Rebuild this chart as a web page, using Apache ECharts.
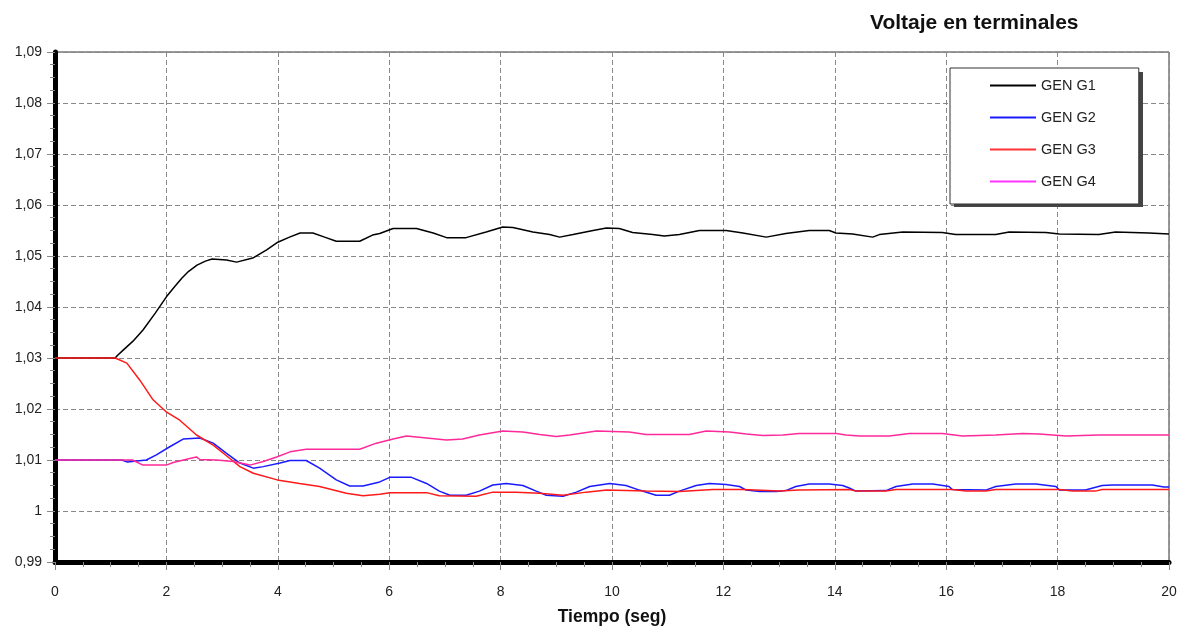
<!DOCTYPE html>
<html>
<head>
<meta charset="utf-8">
<script src="https://cdn.jsdelivr.net/npm/echarts@6/dist/echarts.min.js"></script>
<style>
  html, body { margin: 0; padding: 0; background: #fff; }
  #chart { width: 1188px; height: 630px; }
</style>
</head>
<body>
<div id="chart"></div>
<script>
// Voltage at generator terminals, [time (s), p.u.]
var names = ['GEN G1', 'GEN G2', 'GEN G3', 'GEN G4'];
var colors = ['#000000', '#1a1aff', '#ff1a1a', '#ff2a9a'];

var g1 = [[0,1.03],[1.08,1.03],[1.12,1.0305],[1.2,1.0313],[1.4,1.0333],[1.58,1.0355],[1.8,1.0388],[2.0,1.042],[2.15,1.044],[2.28,1.0457],
    [2.4,1.047],[2.55,1.0482],[2.7,1.049],[2.82,1.0494],[3.08,1.0492],[3.26,1.0488],[3.55,1.0496],[3.8,1.0512],[4.0,1.0527],
    [4.21,1.0537],[4.4,1.0545],[4.63,1.0545],[4.84,1.0537],[5.05,1.0529],[5.47,1.0529],[5.7,1.0541],[5.83,1.0544],[6.07,1.0554],
    [6.49,1.0554],[6.79,1.0545],[7.03,1.0536],[7.38,1.0536],[7.74,1.0547],[8.04,1.0557],[8.22,1.0556],[8.58,1.0547],[8.88,1.0542],
    [9.06,1.0537],[9.3,1.0542],[9.66,1.055],[9.9,1.0555],[10.13,1.0554],[10.37,1.0546],[10.73,1.0542],[10.94,1.0539],[11.21,1.0542],
    [11.57,1.055],[12.05,1.055],[12.35,1.0545],[12.77,1.0537],[13.12,1.0544],[13.54,1.055],[13.9,1.055],[14.02,1.0545],[14.32,1.0543],
    [14.68,1.0537],[14.8,1.0542],[15.22,1.0547],[15.93,1.0546],[16.17,1.0542],[16.89,1.0542],[17.13,1.0547],[17.79,1.0546],
    [18.03,1.0543],[18.74,1.0542],[19.04,1.0547],[19.64,1.0545],[20,1.0543]];

var g2 = [[0,1.01],[1.2,1.01],[1.3,1.0096],[1.64,1.01],[1.82,1.011],[2.06,1.0126],[2.3,1.0141],[2.6,1.0143],[2.84,1.0133],
    [3.08,1.0113],[3.32,1.0094],[3.56,1.0084],[3.74,1.0087],[4.04,1.0094],[4.22,1.0099],[4.51,1.0099],[4.75,1.0084],[5.05,1.0061],
    [5.29,1.0049],[5.53,1.0049],[5.83,1.0057],[6.01,1.0066],[6.4,1.0066],[6.67,1.0054],[6.9,1.0039],[7.09,1.0031],[7.38,1.0031],
    [7.62,1.0039],[7.86,1.0051],[8.1,1.0054],[8.4,1.005],[8.64,1.0039],[8.82,1.0031],[9.12,1.0029],[9.36,1.0037],[9.6,1.0048],
    [9.96,1.0054],[10.25,1.005],[10.49,1.0041],[10.79,1.0031],[11.03,1.0031],[11.21,1.0039],[11.51,1.005],[11.75,1.0054],
    [12.05,1.0052],[12.29,1.0048],[12.41,1.0041],[12.65,1.0038],[12.95,1.0038],[13.12,1.004],[13.3,1.0048],[13.54,1.0053],
    [13.9,1.0053],[14.14,1.005],[14.26,1.0045],[14.38,1.0039],[14.92,1.004],[15.1,1.0048],[15.4,1.0053],[15.76,1.0053],
    [16.05,1.0048],[16.11,1.0042],[16.71,1.0041],[16.89,1.0048],[17.25,1.0053],[17.61,1.0053],[17.97,1.0048],[18.03,1.0041],
    [18.5,1.0041],[18.8,1.005],[18.98,1.0051],[19.7,1.0051],[19.91,1.0047],[20,1.0047]];

var g3 = [[0,1.03],[1.08,1.03],[1.29,1.029],[1.52,1.0257],[1.76,1.0218],[1.99,1.0195],[2.24,1.0178],[2.54,1.0149],[2.84,1.0129],
    [3.14,1.0103],[3.32,1.0087],[3.56,1.0074],[3.99,1.0061],[4.39,1.0054],[4.75,1.0048],[5.23,1.0035],[5.53,1.003],[5.83,1.0033],
    [6.01,1.0036],[6.67,1.0036],[6.9,1.003],[7.56,1.0029],[7.86,1.0037],[8.28,1.0037],[8.7,1.0035],[9.12,1.0031],[9.54,1.0037],
    [9.9,1.0041],[10.61,1.0039],[11.21,1.0038],[11.81,1.0042],[12.35,1.0042],[13.0,1.0039],[13.36,1.0041],[14.26,1.0042],
    [14.38,1.0039],[14.92,1.0039],[15.1,1.0042],[16.11,1.0042],[16.35,1.0039],[16.71,1.0039],[16.89,1.0042],[18.03,1.0042],
    [18.27,1.0039],[18.68,1.0039],[18.8,1.0042],[20,1.0042]];

var g4 = [[0,1.01],[1.39,1.01],[1.58,1.009],[2.0,1.009],[2.12,1.0095],[2.42,1.0103],[2.54,1.0106],[2.6,1.0101],[2.9,1.01],
    [3.2,1.0097],[3.5,1.009],[3.74,1.0097],[3.98,1.0106],[4.22,1.0116],[4.51,1.0121],[5.47,1.0121],[5.77,1.0133],[6.07,1.0141],
    [6.31,1.0147],[6.67,1.0143],[7.03,1.0139],[7.32,1.0141],[7.62,1.0149],[8.04,1.0157],[8.4,1.0155],[8.7,1.015],[9.0,1.0146],
    [9.24,1.0149],[9.72,1.0157],[10.31,1.0155],[10.61,1.015],[11.39,1.015],[11.69,1.0157],[12.11,1.0155],[12.41,1.0151],
    [12.71,1.0148],[13.07,1.0149],[13.36,1.0152],[14.03,1.0152],[14.2,1.0149],[14.44,1.0147],[14.98,1.0147],[15.34,1.0152],
    [15.93,1.0152],[16.29,1.0147],[16.89,1.0149],[17.37,1.0152],[17.67,1.0151],[18.15,1.0147],[18.74,1.0149],[20,1.0149]];

var seriesData = [g1, g2, g3, g4];
var legendColors = ['#000000', '#1a1aff', '#ff3333', '#ff33ff'];

var chart = echarts.init(document.getElementById('chart'));
var font = 'Arial, "Liberation Sans", sans-serif';

var option = {
    animation: false,
    backgroundColor: '#fff',
    title: {
        text: 'Voltaje en terminales',
        left: 865,
        top: 8,
        textStyle: { fontFamily: font, fontSize: 21, fontWeight: 'bold', color: '#111' }
    },
    // drop shadow behind the legend box
    graphic: [{
        type: 'rect',
        z: 1,
        shape: { x: 954, y: 72, width: 189, height: 135 },
        style: { fill: '#444' }
    }],
    legend: {
        orient: 'vertical',
        left: 950,
        top: 68,
        z: 10,
        padding: [10, 43, 15, 40],
        itemGap: 17,
        itemWidth: 46,
        itemHeight: 2,
        icon: 'rect',
        backgroundColor: '#fff',
        borderColor: '#333',
        borderWidth: 1,
        textStyle: { fontFamily: font, fontSize: 14.5, color: '#222', lineHeight: 15 },
        data: names.map(function (n, i) {
            return { name: n, itemStyle: { color: legendColors[i] } };
        })
    },
    grid: {
        left: 55,
        top: 52,
        width: 1114,
        height: 510,
        outerBoundsMode: 'none',
        show: true,
        borderColor: '#333',
        borderWidth: 1
    },
    xAxis: {
        type: 'value',
        min: 0,
        max: 20,
        interval: 2,
        name: 'Tiempo (seg)',
        nameLocation: 'middle',
        nameGap: 46,
        nameTextStyle: { fontFamily: font, fontSize: 17.5, fontWeight: 'bold', color: '#111' },
        axisLine: { lineStyle: { color: '#000', width: 5 } },
        axisTick: { length: 8, lineStyle: { color: '#888', width: 1 } },
        minorTick: { show: true, splitNumber: 4, length: 5, lineStyle: { color: '#888', width: 1 } },
        axisLabel: { margin: 23, fontFamily: font, fontSize: 14, color: '#222' },
        splitLine: { lineStyle: { color: '#888', type: [5, 3], width: 1 } }
    },
    yAxis: {
        type: 'value',
        min: 0.99,
        max: 1.09,
        interval: 0.01,
        axisLine: { show: true, lineStyle: { color: '#000', width: 5 } },
        axisTick: { show: true, length: 8, lineStyle: { color: '#888', width: 1 } },
        minorTick: { show: true, splitNumber: 4, length: 5, lineStyle: { color: '#888', width: 1 } },
        axisLabel: {
            margin: 13,
            fontFamily: font,
            fontSize: 14,
            color: '#222',
            formatter: function (v) {
                return String(parseFloat(v.toFixed(2))).replace('.', ',');
            }
        },
        splitLine: { lineStyle: { color: '#888', type: [5, 3], width: 1 } }
    },
    series: names.map(function (n, i) {
        return {
            name: n,
            type: 'line',
            data: seriesData[i],
            showSymbol: false,
            symbol: 'none',
            lineStyle: { color: colors[i], width: 1.5 },
            itemStyle: { color: colors[i] }
        };
    })
};

chart.setOption(option);
</script>
</body>
</html>
